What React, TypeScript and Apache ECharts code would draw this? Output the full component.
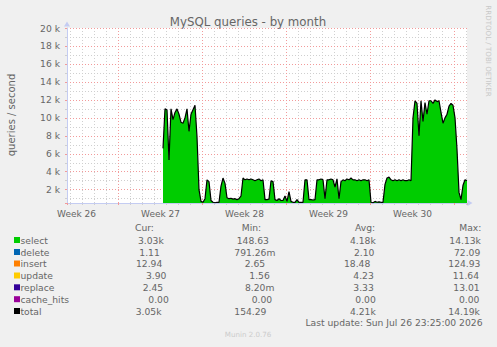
import React, { useEffect, useRef } from 'react';
import * as echarts from 'echarts';

// ---------- data ----------
const seriesNames = ['select', 'delete', 'insert', 'update', 'replace', 'cache_hits', 'total'];
const seriesColors = ['#00CC00', '#0066B3', '#FF8000', '#FFCC00', '#330099', '#990099', '#000000'];
const curValues = ['3.03k', '1.11', '12.94', '3.90', '2.45', '0.00', '3.05k'];
const minValues = ['148.63', '791.26m', '2.65', '1.56', '8.20m', '0.00', '154.29'];
const avgValues = ['4.18k', '2.10', '18.48', '4.23', '3.33', '0.00', '4.21k'];
const maxValues = ['14.13k', '72.09', '124.93', '11.64', '13.01', '0.00', '14.19k'];
const columnHeaders = ['Cur:', 'Min:', 'Avg:', 'Max:'];
const weekLabels = ['Week 26', 'Week 27', 'Week 28', 'Week 29', 'Week 30'];
const yTickValues = [2, 4, 6, 8, 10, 12, 14, 16, 18, 20]; // thousands of queries / second

// time axis: hours relative to the start of Week 27
const axisStartHour = -103;
const axisEndHour = 697;
const selectStartHour = 89;
const selectStepHours = 4;
// select queries / second, in thousands, every 4 hours
const selectK = [
  6.6, 11.0, 10.9, 5.3, 11.0, 9.8, 10.6, 11.0, 10.4, 9.5,
  9.4, 10.0, 11.0, 8.5, 10.4, 10.9, 11.4, 7.9, 2.0, 0.7,
  0.6, 1.0, 3.1, 2.9, 0.8, 0.6, 0.55, 0.6, 0.6, 2.4,
  3.3, 2.7, 1.1, 1.0, 1.05, 0.95, 1.0, 0.9, 1.0, 1.3,
  3.3, 3.1, 3.2, 3.1, 3.2, 3.1, 3.0, 3.1, 3.2, 3.0,
  3.1, 0.9, 0.9, 0.95, 3.0, 2.9, 0.9, 0.8, 1.0, 0.8,
  0.8, 1.3, 0.7, 1.8, 0.7, 0.6, 0.6, 0.9, 0.6, 0.6,
  0.6, 3.1, 3.1, 0.9, 0.9, 0.85, 0.9, 3.1, 3.1, 3.2,
  3.1, 1.0, 3.1, 3.1, 3.2, 3.1, 2.3, 3.2, 1.0, 2.9,
  3.1, 3.0, 3.2, 3.1, 3.3, 3.1, 3.1, 3.0, 3.1, 3.0,
  3.1, 3.1, 3.0, 3.1, 0.6, 0.55, 0.7, 0.6, 0.65, 0.6,
  0.6, 2.6, 3.3, 3.4, 3.1, 3.0, 3.1, 3.0, 3.1, 3.0,
  3.1, 3.0, 3.0, 3.1, 3.0, 10.0, 11.9, 11.6, 8.0, 11.9,
  9.6, 11.7, 10.4, 11.9, 11.9, 11.6, 12.0, 11.8, 11.9, 10.6,
  9.4, 10.0, 10.4, 11.3, 11.6, 11.4, 10.0, 6.5, 1.7, 0.9,
  2.5, 3.1, 3.03,
];

// ---------- layout / style ----------
const FONT = "'DejaVu Sans', 'Bitstream Vera Sans', sans-serif";
const FONT_COLOR = '#666666';
const AXIS_COLOR = '#C4CCF2';
const GRID_MINOR = '#cfcfcf';
const GRID_MAJOR = '#f29a9a';
const Y_MIN = 0.52;
const Y_MAX = 20;
const HOURS_PER_DAY = 24;
const HOURS_PER_WEEK = 168;

const legendRowY = [240, 252, 263.5, 275.5, 287.3, 299.2, 311];
const headerY = 227;
const headerX = [135, 241.7, 355, 459.3];
const curX = [138, 139.3, 136, 146, 142.7, 148.3, 135.7];
const minX = [236.7, 234.3, 244.7, 249.3, 245, 251.7, 234.3];
const avgX = [350, 354, 344, 353.3, 353.3, 355.3, 350];
const maxX = [449.3, 454, 448.3, 452.7, 453.3, 459, 448.3];

function txt(text: string, x: number, y: number, extra: any = {}) {
  return {
    type: 'text',
    x,
    y,
    silent: true,
    style: {
      text,
      fill: FONT_COLOR,
      font: `9.2px ${FONT}`,
      textAlign: 'left',
      textVerticalAlign: 'middle',
      ...extra,
    },
  };
}

function buildGraphic() {
  const els: any[] = [];
  els.push(txt('MySQL queries - by month', 248, 21.5, { textAlign: 'center', font: `11.8px ${FONT}` }));
  els.push({
    type: 'text', x: 11, y: 115, rotation: Math.PI / 2, silent: true,
    style: { text: 'queries / second', fill: FONT_COLOR, font: `10px ${FONT}`, textAlign: 'center', textVerticalAlign: 'middle' },
  });
  els.push({
    type: 'text', x: 488, y: 51, rotation: -Math.PI / 2, silent: true,
    style: { text: 'RRDTOOL / TOBI OETIKER', fill: '#c8c8c8', font: `7.1px ${FONT}`, textAlign: 'center', textVerticalAlign: 'middle' },
  });
  columnHeaders.forEach((h, j) => els.push(txt(h, headerX[j], headerY)));
  seriesNames.forEach((name, i) => {
    const y = legendRowY[i];
    els.push({ type: 'rect', silent: true, shape: { x: 14, y: y - 3, width: 6, height: 6 }, style: { fill: seriesColors[i] } });
    els.push(txt(name, 20.5, y));
    els.push(txt(curValues[i], curX[i], y));
    els.push(txt(minValues[i], minX[i], y));
    els.push(txt(avgValues[i], avgX[i], y));
    els.push(txt(maxValues[i], maxX[i], y));
  });
  els.push(txt('Last update: Sun Jul 26 23:25:00 2026', 482.5, 322.5, { textAlign: 'right' }));
  els.push(txt('Munin 2.0.76', 248, 334.7, { textAlign: 'center', fill: '#cccccc', font: `7.1px ${FONT}` }));
  return els;
}

function buildOption(): any {
  const splitDots = [1, 2];
  return {
    animation: false,
    backgroundColor: '#F0F0F0',
    grid: { left: 67, top: 28, width: 400, height: 175, show: true, backgroundColor: '#FFFFFF', borderWidth: 0, z: 0 },
    xAxis: [
      {
        type: 'value', position: 'bottom', z: 2,
        min: axisStartHour, max: axisEndHour, minInterval: HOURS_PER_WEEK, maxInterval: HOURS_PER_WEEK,
        axisLine: { show: true, onZero: false, lineStyle: { color: AXIS_COLOR, width: 1 }, symbol: ['none', 'triangle'], symbolSize: [6, 5], symbolOffset: [0, 3] },
        axisTick: { show: true, length: 2, lineStyle: { color: GRID_MAJOR } },
        axisLabel: { show: false },
        splitLine: { show: true, showMinLine: false, showMaxLine: false, lineStyle: { color: GRID_MAJOR, width: 1, type: splitDots } },
      },
      {
        type: 'value', position: 'bottom', z: 1,
        min: axisStartHour, max: axisEndHour, minInterval: HOURS_PER_DAY, maxInterval: HOURS_PER_DAY,
        axisLine: { show: false, onZero: false },
        axisTick: { show: true, length: 2, lineStyle: { color: GRID_MINOR } },
        axisLabel: { show: false },
        splitLine: { show: true, showMinLine: false, showMaxLine: false, lineStyle: { color: GRID_MINOR, width: 1, type: splitDots } },
      },
      {
        // week labels, centred in the middle of each week
        type: 'value', position: 'bottom', z: 2,
        min: axisStartHour + HOURS_PER_WEEK / 2, max: axisEndHour + HOURS_PER_WEEK / 2,
        minInterval: HOURS_PER_WEEK, maxInterval: HOURS_PER_WEEK,
        axisLine: { show: false, onZero: false }, axisTick: { show: false }, splitLine: { show: false },
        axisLabel: {
          show: true, color: FONT_COLOR, fontFamily: FONT, fontSize: 9, margin: 6,
          formatter: (v: number) => {
            const k = Math.round(v / HOURS_PER_WEEK);
            return Math.abs(v - k * HOURS_PER_WEEK) < 1e-6 && weekLabels[k] ? weekLabels[k] : '';
          },
        },
      },
    ],
    yAxis: [
      {
        type: 'value', position: 'left', z: 2,
        min: Y_MIN, max: Y_MAX, minInterval: 2, maxInterval: 2,
        axisLine: { show: true, onZero: false, lineStyle: { color: AXIS_COLOR, width: 1 }, symbol: ['none', 'triangle'], symbolSize: [6, 5], symbolOffset: [0, 4] },
        axisTick: { show: true, length: 2, lineStyle: { color: GRID_MAJOR } },
        axisLabel: {
          show: true, color: FONT_COLOR, fontFamily: FONT, fontSize: 9.2, margin: 7,
          formatter: (v: number) => (yTickValues.some((t) => Math.abs(t - v) < 1e-6) ? `${Math.round(v)} k` : ''),
        },
        splitLine: { show: true, showMinLine: false, showMaxLine: true, lineStyle: { color: GRID_MAJOR, width: 1, type: splitDots } },
      },
      {
        type: 'value', position: 'left', z: 1,
        min: Y_MIN, max: Y_MAX, minInterval: 1, maxInterval: 1,
        axisLine: { show: false, onZero: false },
        axisTick: { show: true, length: 2, lineStyle: { color: GRID_MINOR } },
        axisLabel: { show: false },
        splitLine: { show: true, showMinLine: false, showMaxLine: false, lineStyle: { color: GRID_MINOR, width: 1, type: splitDots } },
      },
    ],
    series: [
      {
        type: 'line', name: 'select', xAxisIndex: 0, yAxisIndex: 0, z: 3,
        data: selectK.map((v, i) => [selectStartHour + selectStepHours * i, v]),
        showSymbol: false, symbol: 'none', silent: true,
        lineStyle: { color: '#000000', width: 1.2 },
        areaStyle: { color: seriesColors[0], opacity: 1 },
        itemStyle: { color: seriesColors[0] },
      },
    ],
    graphic: buildGraphic(),
  };
}

export default function App() {
  const ref = useRef<HTMLDivElement>(null);
  useEffect(() => {
    if (!ref.current) return;
    const chart = echarts.init(ref.current, null, { renderer: 'svg' });
    chart.setOption(buildOption());
    return () => chart.dispose();
  }, []);
  return <div ref={ref} style={{ position: 'absolute', left: 0, top: 0, width: 497, height: 347 }} />;
}
